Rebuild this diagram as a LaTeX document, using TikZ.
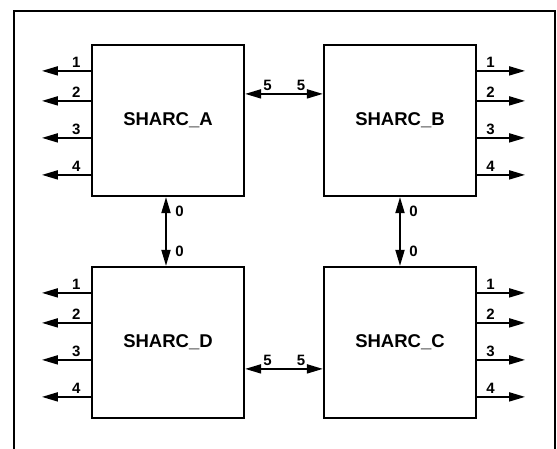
\documentclass[tikz,border=0pt]{standalone}
\usepackage{fontspec}
\setmainfont{Liberation Sans}
\usetikzlibrary{positioning,arrows.meta}

\begin{document}
\begin{tikzpicture}[x=1pt,y=-1pt,
    sharc/.style={draw,line width=2.2pt,minimum width=152pt,minimum height=151pt,font=\fontsize{18.5}{21}\selectfont\bfseries},
    port/.style={-{Triangle[length=16pt,width=9pt]},line width=1.8pt},
    link/.style={{Triangle[length=16pt,width=9pt]}-{Triangle[length=16pt,width=9pt]},line width=1.8pt},
    num/.style={font=\fontsize{15}{17}\selectfont\bfseries,inner sep=2.5pt}]
  \useasboundingbox (0,0) rectangle (557,449);
  \draw[line width=2.2pt] (14,449) -- (14,11) -- (555,11) -- (555,449);

  \node[sharc] (A) at (168,120.5) {SHARC\_A};
  \node[sharc] (B) at (400,120.5) {SHARC\_B};
  \node[sharc] (D) at (168,342.5) {SHARC\_D};
  \node[sharc] (C) at (400,342.5) {SHARC\_C};

  \foreach \n/\dy in {1/27,2/57,3/94,4/131} {
    \foreach \s in {A,D} {
      \coordinate (\s\n) at ([yshift=-\dy pt]\s.north west);
      \coordinate (\s out\n) at ([xshift=-49pt]\s\n);
      \draw[port] (\s\n) -- node[num,above,pos=0.3] {\n} (\s out\n);
    }
    \foreach \s in {B,C} {
      \coordinate (\s\n) at ([yshift=-\dy pt]\s.north east);
      \coordinate (\s out\n) at ([xshift=48pt]\s\n);
      \draw[port] (\s\n) -- node[num,above,pos=0.28] {\n} (\s out\n);
    }
  }

  \coordinate (ab) at ([yshift=-50pt]A.north east);
  \coordinate (dc) at ([yshift=-103pt]D.north east);
  \coordinate (ad) at ([xshift=-2pt]A.south);
  \coordinate (bc) at (B.south);
  \draw[link] (ab) -- (ab -| B.west) node[num,above,pos=0.29] {5} node[num,above,pos=0.72] {5};
  \draw[link] (dc) -- (dc -| C.west) node[num,above,pos=0.29] {5} node[num,above,pos=0.72] {5};
  \draw[link] (ad) -- (ad |- D.north) node[num,right,xshift=6pt,pos=0.21] {0} node[num,right,xshift=6pt,pos=0.79] {0};
  \draw[link] (bc) -- (bc |- C.north) node[num,right,xshift=6pt,pos=0.21] {0} node[num,right,xshift=6pt,pos=0.79] {0};
\end{tikzpicture}
\end{document}
